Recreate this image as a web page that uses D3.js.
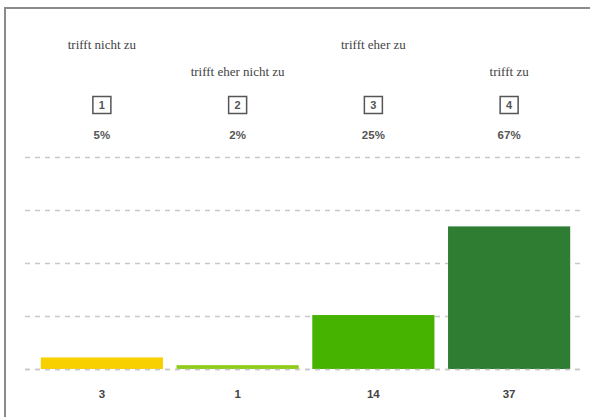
<!DOCTYPE html>
<html>
<head>
<meta charset="utf-8">
<script src="https://cdn.jsdelivr.net/npm/d3@7"></script>
<style>
  body { margin: 0; background: #fff; }
</style>
</head>
<body>
<div id="chart"></div>
<script>
// answer categories, counts and colours
const categories = ["trifft nicht zu", "trifft eher nicht zu", "trifft eher zu", "trifft zu"];
const codes = ["1", "2", "3", "4"];
const counts = [3, 1, 14, 37];
const percents = ["5%", "2%", "25%", "67%"];
const colors = ["#f8d000", "#8fcc1c", "#45b300", "#2e7d32"];

const width = 590, height = 417;
const margin = { top: 157, bottom: 48 };

const svg = d3.select("#chart").append("svg")
    .attr("width", width)
    .attr("height", height);

// frame (top + left only)
svg.append("path")
    .attr("d", `M5,${height} L5,8 L${width},8`)
    .attr("fill", "none")
    .attr("stroke", "#8a8a8a")
    .attr("stroke-width", 2);

const total = d3.sum(counts);

const x = d3.scaleBand()
    .domain(codes)
    .range([34, 577])
    .paddingInner(0.1)
    .paddingOuter(0.05);

const y = d3.scaleLinear()
    .domain([0, total])
    .range([height - margin.bottom, margin.top]);

// dashed grid at quarters of the total, behind the bars
const gridVals = d3.range(0, 5).map(k => total * k / 4);
const gridLine = sel => sel
    .attr("x1", 25)
    .attr("x2", 582)
    .attr("y1", d => Math.round(y(d)) + 0.5)
    .attr("y2", d => Math.round(y(d)) + 0.5)
    .attr("stroke", "#c8c8c8")
    .attr("stroke-width", 1.5)
    .attr("stroke-dasharray", "5,5");

svg.append("g")
    .selectAll("line")
    .data(gridVals)
    .join("line")
    .call(gridLine);

// bars
svg.selectAll("rect.bar")
    .data(counts)
    .join("rect")
    .attr("class", "bar")
    .attr("x", (d, i) => x(codes[i]))
    .attr("y", d => y(d))
    .attr("width", x.bandwidth())
    .attr("height", d => y(0) - y(d))
    .attr("fill", (d, i) => colors[i]);

// baseline stays visible over the bars
svg.append("g")
    .selectAll("line")
    .data([0])
    .join("line")
    .call(gridLine);

const cx = c => x(c) + x.bandwidth() / 2;

// category labels, staggered
svg.selectAll("text.cat")
    .data(categories)
    .join("text")
    .attr("class", "cat")
    .attr("x", (d, i) => cx(codes[i]))
    .attr("y", (d, i) => i % 2 === 0 ? 49 : 76)
    .attr("text-anchor", "middle")
    .style("font-family", "'Liberation Serif', serif")
    .style("font-size", "13px")
    .attr("fill", "#444")
    .text(d => d);

// code boxes
const boxes = svg.selectAll("g.code")
    .data(codes)
    .join("g")
    .attr("class", "code")
    .attr("transform", d => `translate(${cx(d)},105)`);

boxes.append("rect")
    .attr("x", -9)
    .attr("y", -8.5)
    .attr("width", 18)
    .attr("height", 17)
    .attr("fill", "#fff")
    .attr("stroke", "#555")
    .attr("stroke-width", 1.5);

boxes.append("text")
    .attr("text-anchor", "middle")
    .attr("dy", "0.36em")
    .style("font-family", "'Liberation Sans', Arial, sans-serif")
    .style("font-size", "11px")
    .style("font-weight", "bold")
    .attr("fill", "#555")
    .text(d => d);

// percentages
svg.selectAll("text.pct")
    .data(percents)
    .join("text")
    .attr("class", "pct")
    .attr("x", (d, i) => cx(codes[i]))
    .attr("y", 139)
    .attr("text-anchor", "middle")
    .style("font-family", "'Liberation Sans', Arial, sans-serif")
    .style("font-size", "11.5px")
    .style("font-weight", "bold")
    .attr("fill", "#555")
    .text(d => d);

// counts under bars
svg.selectAll("text.cnt")
    .data(counts)
    .join("text")
    .attr("class", "cnt")
    .attr("x", (d, i) => cx(codes[i]))
    .attr("y", 398)
    .attr("text-anchor", "middle")
    .style("font-family", "'Liberation Sans', Arial, sans-serif")
    .style("font-size", "11.5px")
    .style("font-weight", "bold")
    .attr("fill", "#444")
    .text(d => d);
</script>
</body>
</html>
